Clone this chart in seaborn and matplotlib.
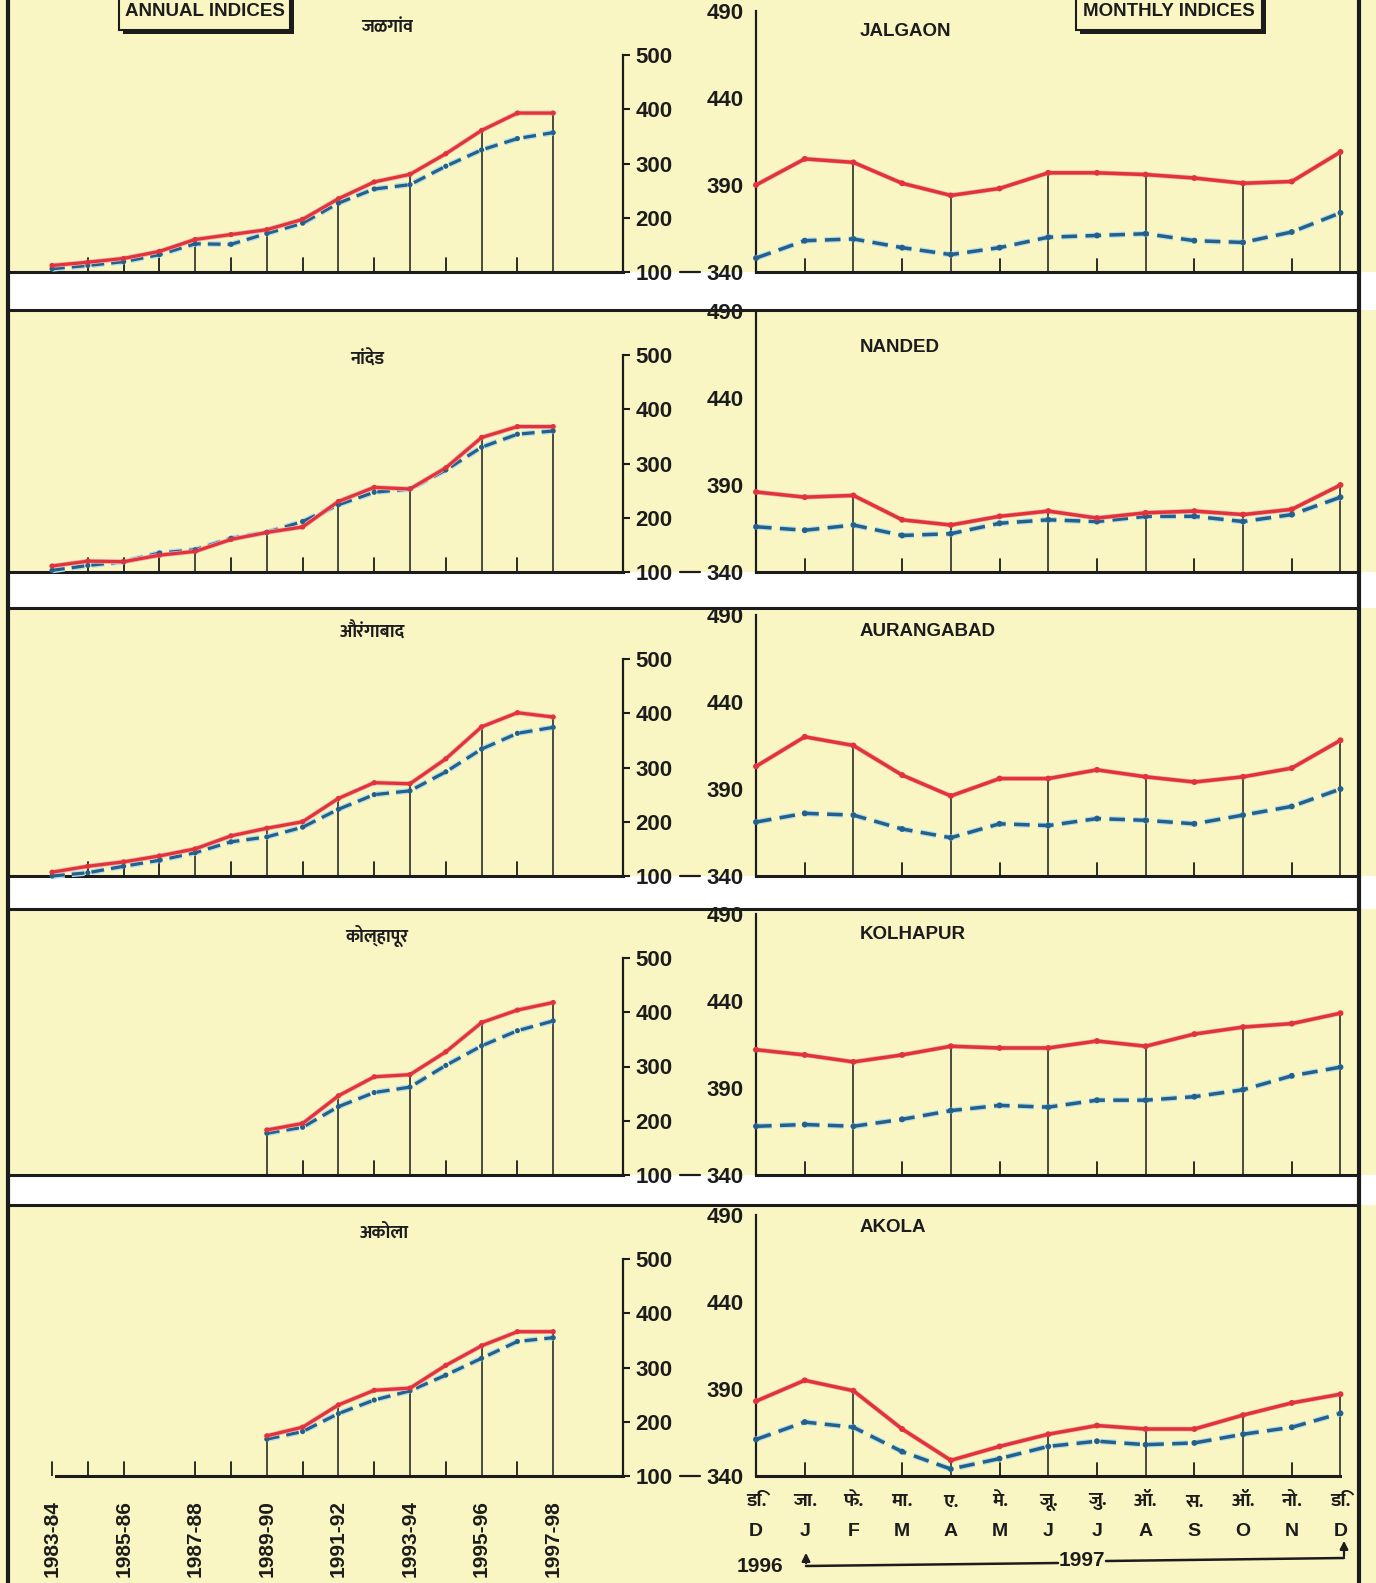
import os
import numpy as np
import pandas as pd
import matplotlib
matplotlib.use('Agg')
import matplotlib.pyplot as plt
import matplotlib.patheffects as pe
from matplotlib import font_manager
from matplotlib.patches import Rectangle
from matplotlib.lines import Line2D
import seaborn as sns

nan = np.nan

years = ['1983-84', '1984-85', '1985-86', '1986-87', '1987-88', '1988-89', '1989-90',
         '1990-91', '1991-92', '1992-93', '1993-94', '1994-95', '1995-96', '1996-97', '1997-98']
months_mr = ['डि.', 'जा.', 'फे.', 'मा.', 'ए.', 'मे.', 'जू.', 'जु.', 'ऑ.', 'स.', 'ऑ.', 'नो.', 'डि.']
months_en = ['D', 'J', 'F', 'M', 'A', 'M', 'J', 'J', 'A', 'S', 'O', 'N', 'D']
districts_mr = ['जळगांव', 'नांदेड', 'औरंगाबाद', 'कोल्हापूर', 'अकोला']
districts_en = ['JALGAON', 'NANDED', 'AURANGABAD', 'KOLHAPUR', 'AKOLA']

# annual indices (red = solid, blue = dashed)
jalgaon_annual_red = [112, 118, 125, 138, 160, 169, 178, 197, 235, 266, 280, 318, 361, 393, 393]
jalgaon_annual_blue = [106, 112, 119, 132, 152, 151, 171, 190, 227, 253, 261, 295, 325, 346, 357]
nanded_annual_red = [111, 120, 119, 131, 138, 160, 173, 183, 230, 256, 253, 292, 348, 368, 368]
nanded_annual_blue = [103, 112, 119, 135, 141, 162, 173, 193, 224, 247, 253, 288, 330, 354, 360]
aurangabad_annual_red = [107, 118, 126, 137, 150, 174, 188, 200, 243, 272, 270, 316, 375, 401, 393]
aurangabad_annual_blue = [100, 106, 118, 129, 143, 163, 172, 190, 223, 250, 257, 292, 334, 363, 374]
kolhapur_annual_red = [nan, nan, nan, nan, nan, nan, 183, 195, 246, 281, 285, 327, 381, 404, 418]
kolhapur_annual_blue = [nan, nan, nan, nan, nan, nan, 177, 188, 226, 252, 262, 302, 338, 366, 384]
akola_annual_red = [nan, nan, nan, nan, nan, nan, 174, 190, 231, 258, 262, 304, 340, 366, 366]
akola_annual_blue = [nan, nan, nan, nan, nan, nan, 168, 182, 215, 240, 257, 286, 317, 348, 355]

# monthly indices Dec 1996 - Dec 1997
jalgaon_month_red = [390, 405, 403, 391, 384, 388, 397, 397, 396, 394, 391, 392, 409]
jalgaon_month_blue = [348, 358, 359, 354, 350, 354, 360, 361, 362, 358, 357, 363, 374]
nanded_month_red = [386, 383, 384, 370, 367, 372, 375, 371, 374, 375, 373, 376, 390]
nanded_month_blue = [366, 364, 367, 361, 362, 368, 370, 369, 372, 372, 369, 373, 383]
aurangabad_month_red = [403, 420, 415, 398, 386, 396, 396, 401, 397, 394, 397, 402, 418]
aurangabad_month_blue = [371, 376, 375, 367, 362, 370, 369, 373, 372, 370, 375, 380, 390]
kolhapur_month_red = [412, 409, 405, 409, 414, 413, 413, 417, 414, 421, 425, 427, 433]
kolhapur_month_blue = [368, 369, 368, 372, 377, 380, 379, 383, 383, 385, 389, 397, 402]
akola_month_red = [383, 395, 389, 367, 349, 357, 364, 369, 367, 367, 375, 382, 387]
akola_month_blue = [361, 371, 368, 354, 344, 350, 357, 360, 358, 359, 364, 368, 376]

annual_reds = [jalgaon_annual_red, nanded_annual_red, aurangabad_annual_red, kolhapur_annual_red, akola_annual_red]
annual_blues = [jalgaon_annual_blue, nanded_annual_blue, aurangabad_annual_blue, kolhapur_annual_blue, akola_annual_blue]
month_reds = [jalgaon_month_red, nanded_month_red, aurangabad_month_red, kolhapur_month_red, akola_month_red]
month_blues = [jalgaon_month_blue, nanded_month_blue, aurangabad_month_blue, kolhapur_month_blue, akola_month_blue]

annual_drop_idx = [[4, 6, 8, 10, 12, 14]] * 3 + [[6, 8, 10, 12, 14]] * 2
annual_tick_idx = [[1, 2, 3, 5, 7, 9, 11, 13]] * 3 + [[7, 9, 11, 13], [0, 1, 2, 4, 5, 7, 9, 11, 13]]
month_drop_idx = [2, 4, 6, 8, 10, 12]
month_tick_idx = [1, 3, 5, 7, 9, 11]

# layout (pixels of the 1376x1583 page)
W, H = 1376, 1583
BG = '#faf6c4'
RED = '#e2323b'
BLUE = '#23618c'
INK = '#1c1c1c'
row_tops = [0, 310, 608, 909, 1205]
baselines = [272, 572, 876, 1175, 1476]
title_mr_pos = [(387, 28), (367, 360), (373, 632), (377, 936), (384, 1233)]
title_en_y = [31, 347, 631, 934, 1228]


def fx(px):
    return px / W


def fy(py):
    return 1 - py / H


def find_deva_font():
    keys = ('devanagari', 'lohit', 'gargi', 'mukta', 'hind', 'freesans',
            'kalimati', 'sarai', 'nakula', 'mangal', 'samanata')
    for path in font_manager.findSystemFonts():
        name = os.path.basename(path).lower()
        if any(k in name for k in keys):
            try:
                font_manager.fontManager.addfont(path)
                return font_manager.FontProperties(fname=path).get_name()
            except Exception:
                continue
    return None


def draw_pair(ax, data, lw, size, dash):
    # dashed blue with a pale halo, solid red on top, small dot markers
    sns.lineplot(data=data, x='x', y='blue', ax=ax, color=BLUE, linewidth=lw,
                 linestyle=dash, path_effects=halo_blue, clip_on=False, zorder=4)
    sns.lineplot(data=data, x='x', y='red', ax=ax, color=RED, linewidth=lw,
                 path_effects=halo_red, clip_on=False, zorder=5)
    sns.scatterplot(data=data, x='x', y='blue', ax=ax, color=BLUE, s=size,
                    edgecolor='none', clip_on=False, zorder=6)
    sns.scatterplot(data=data, x='x', y='red', ax=ax, color=RED, s=size,
                    edgecolor='none', clip_on=False, zorder=7)
    ax.set_xlabel('')
    ax.set_ylabel('')


sns.set_style('white')
plt.rcParams['font.family'] = ['Liberation Sans', 'DejaVu Sans']
plt.rcParams['font.weight'] = 'bold'
deva = find_deva_font()
deva_family = [deva, 'DejaVu Sans'] if deva else ['DejaVu Sans']

halo_blue = [pe.Stroke(linewidth=4.2, foreground='#b9dfe6'), pe.Normal()]
halo_red = [pe.Stroke(linewidth=3.4, foreground='#f1b0a6'), pe.Normal()]

fig = plt.figure(figsize=(W / 100, H / 100), dpi=100)
fig.patch.set_facecolor(BG)

# white strips between the rows
for k in range(4):
    fig.add_artist(Rectangle((fx(8), fy(row_tops[k + 1])), 1 - fx(8),
                             fy(baselines[k]) - fy(row_tops[k + 1]),
                             transform=fig.transFigure, facecolor='white',
                             edgecolor='none', zorder=0))
    fig.add_artist(Line2D([fx(8), fx(1359)], [fy(row_tops[k + 1])] * 2,
                          transform=fig.transFigure, color=INK, lw=2.2))
# page borders
fig.add_artist(Line2D([fx(8), fx(8)], [0, 1], transform=fig.transFigure, color=INK, lw=3))
fig.add_artist(Line2D([fx(1359), fx(1359)], [0, 1], transform=fig.transFigure, color=INK, lw=3))

for r in range(5):
    b = baselines[r]
    # ---------------- annual panel
    axa = fig.add_axes([fx(8), fy(b), fx(623) - fx(8), 217 / H])
    axa.set_facecolor('none')
    df = pd.DataFrame({'x': np.arange(len(years)), 'red': annual_reds[r],
                       'blue': annual_blues[r]}).dropna()
    draw_pair(axa, df, 2.3, 14, (0, (4, 2.2)))
    top_vals = df.set_index('x')[['red', 'blue']].max(axis=1)
    for i in annual_drop_idx[r]:
        axa.vlines(i, 100, top_vals[i], colors=INK, lw=1.1, zorder=3)
    for i in annual_tick_idx[r]:
        axa.axvline(i, ymin=0, ymax=0.065, color=INK, lw=1.3)
    axa.set_xlim(-1.23, 15.95)
    axa.set_ylim(100, 500)
    axa.set_xticks([])
    axa.spines[['left', 'top']].set_visible(False)
    axa.spines['right'].set_linewidth(1.6)
    axa.spines['bottom'].set_linewidth(2.2)
    axa.spines['right'].set_color(INK)
    axa.spines['bottom'].set_color(INK)
    if r == 4:
        axa.spines['bottom'].set_bounds(0.1, 15.95)
    axa.yaxis.tick_right()
    axa.set_yticks([100, 200, 300, 400, 500])
    axa.tick_params(axis='y', direction='out', length=5, width=1.5, pad=4,
                    labelsize=16, colors=INK)
    fig.text(fx(title_mr_pos[r][0]), fy(title_mr_pos[r][1]), districts_mr[r],
             ha='center', va='center', fontsize=13, family=deva_family, color=INK)

    # ---------------- monthly panel
    axm = fig.add_axes([fx(756), fy(b), fx(1359) - fx(756), 261 / H])
    axm.set_facecolor('none')
    dm = pd.DataFrame({'x': np.arange(len(months_en)), 'red': month_reds[r],
                       'blue': month_blues[r]})
    draw_pair(axm, dm, 2.5, 18, (0, (4.5, 2.4)))
    for i in month_drop_idx:
        axm.vlines(i, 340, max(month_reds[r][i], month_blues[r][i]), colors=INK, lw=1.1, zorder=3)
    for i in month_tick_idx:
        axm.axvline(i, ymin=0, ymax=0.05, color=INK, lw=1.3)
    axm.set_xlim(0, 12.38)
    axm.set_ylim(340, 490)
    axm.set_xticks([])
    axm.spines[['right', 'top']].set_visible(False)
    axm.spines['left'].set_linewidth(1.6)
    axm.spines['bottom'].set_linewidth(2.2)
    axm.spines['left'].set_color(INK)
    axm.spines['bottom'].set_color(INK)
    if r == 4:
        axm.spines['bottom'].set_bounds(0, 12)
    axm.set_yticks([340, 390, 440, 490])
    axm.tick_params(axis='y', direction='out', length=7, width=1.5, pad=2,
                    labelsize=16, colors=INK)
    fig.text(fx(860), fy(title_en_y[r]), districts_en[r], ha='left', va='center',
             fontsize=13.5, color=INK)
    # dash joining "100" and "340"
    fig.add_artist(Line2D([fx(680), fx(700)], [fy(b)] * 2, transform=fig.transFigure,
                          color=INK, lw=1.6))

    if r == 4:
        for i in range(0, len(years), 2):
            axa.text(i, -(1500 - b) / 217, years[i], rotation=90, ha='center', va='top',
                     fontsize=15, color=INK, transform=axa.get_xaxis_transform())
        for i in range(len(months_en)):
            axm.text(i, -(1502 - b) / 261, months_mr[i], ha='center', va='center',
                     fontsize=14, family=deva_family, color=INK,
                     transform=axm.get_xaxis_transform())
            axm.text(i, -(1532 - b) / 261, months_en[i], ha='center', va='center',
                     fontsize=14, color=INK, transform=axm.get_xaxis_transform())

# year span below the monthly labels
fig.text(fx(760), fy(1566), '1996', ha='center', va='center', fontsize=15, color=INK)
fig.text(fx(1082), fy(1561), '1997', ha='center', va='center', fontsize=15, color=INK)
fig.add_artist(Line2D([fx(806), fx(1058)], [fy(1566), fy(1563)], transform=fig.transFigure,
                      color=INK, lw=1.8))
fig.add_artist(Line2D([fx(1106), fx(1344)], [fy(1561), fy(1558)], transform=fig.transFigure,
                      color=INK, lw=1.8))
for xa, y0, y1 in [(806, 1566, 1550), (1344, 1559, 1538)]:
    plt.annotate('', xy=(fx(xa), fy(y1)), xytext=(fx(xa), fy(y0)),
                 xycoords='figure fraction', textcoords='figure fraction',
                 arrowprops=dict(arrowstyle='-|>', color=INK, lw=1.6, mutation_scale=12))

# header boxes
for x0, x1, label in [(119, 290, 'ANNUAL INDICES'), (1076, 1262, 'MONTHLY INDICES')]:
    fig.add_artist(Rectangle((fx(x0 + 4), fy(34)), fx(x1) - fx(x0), fy(-5) - fy(30),
                             transform=fig.transFigure, facecolor=INK, edgecolor='none'))
    fig.add_artist(Rectangle((fx(x0), fy(30)), fx(x1) - fx(x0), fy(-5) - fy(30),
                             transform=fig.transFigure, facecolor=BG, edgecolor=INK, lw=1.5))
    fig.text(fx((x0 + x1) / 2), fy(12), label, ha='center', va='center',
             fontsize=13.5, color=INK)

fig.savefig('out.png', dpi=100, facecolor=BG)
